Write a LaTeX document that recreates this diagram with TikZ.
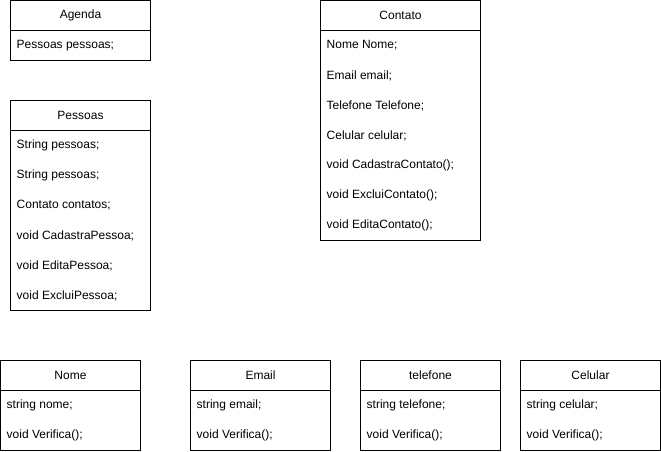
\documentclass[tikz,border=0pt]{standalone}
\usepackage{fontspec}
\setmainfont{Liberation Sans}

\tikzset{
  classname/.style={draw, line width=1pt, anchor=north west, minimum height=30pt, inner sep=0pt, outer sep=0pt},
  classbody/.style={draw, line width=1pt, anchor=north west, inner sep=0pt, outer sep=0pt},
  member/.style={anchor=west, inner sep=0pt},
}

% name, label, x, y, width, rows, members
\newcommand{\umlclass}[7]{%
  \node[classname, minimum width=#5] (#1) at (#3,#4) {#2};
  \node[classbody, minimum width=#5, minimum height=#6*30pt] (#1-body) at (#1.south west) {};
  \foreach \m [count=\i, evaluate=\i as \dy using (\i-0.5)*30] in {#7}
    \node[member] (#1-\i) at ([xshift=6pt, yshift=-\dy pt] #1-body.north west) {\m};
}

\begin{document}
\begin{tikzpicture}[x=1pt, y=-1pt]
  \fontsize{12}{14}\selectfont
  \useasboundingbox (-0.5,-0.5) rectangle (660.5,451.5);

  \umlclass{agenda}{Agenda}{10}{0}{140pt}{1}{{Pessoas pessoas;}}

  \umlclass{pessoas}{Pessoas}{10}{100}{140pt}{6}{{String pessoas;},{String pessoas;},{Contato contatos;},{void CadastraPessoa;},{void EditaPessoa;},{void ExcluiPessoa;}}

  \umlclass{contato}{Contato}{320}{0}{160pt}{7}{{Nome Nome;},{Email email;},{Telefone Telefone;},{Celular celular;},{void CadastraContato();},{void ExcluiContato();},{void EditaContato();}}

  \umlclass{nome}{Nome}{0}{360}{140pt}{2}{{string nome;},{void Verifica();}}
  \umlclass{email}{Email}{190}{360}{140pt}{2}{{string email;},{void Verifica();}}
  \umlclass{telefone}{telefone}{360}{360}{140pt}{2}{{string telefone;},{void Verifica();}}
  \umlclass{celular}{Celular}{520}{360}{140pt}{2}{{string celular;},{void Verifica();}}

\end{tikzpicture}
\end{document}
